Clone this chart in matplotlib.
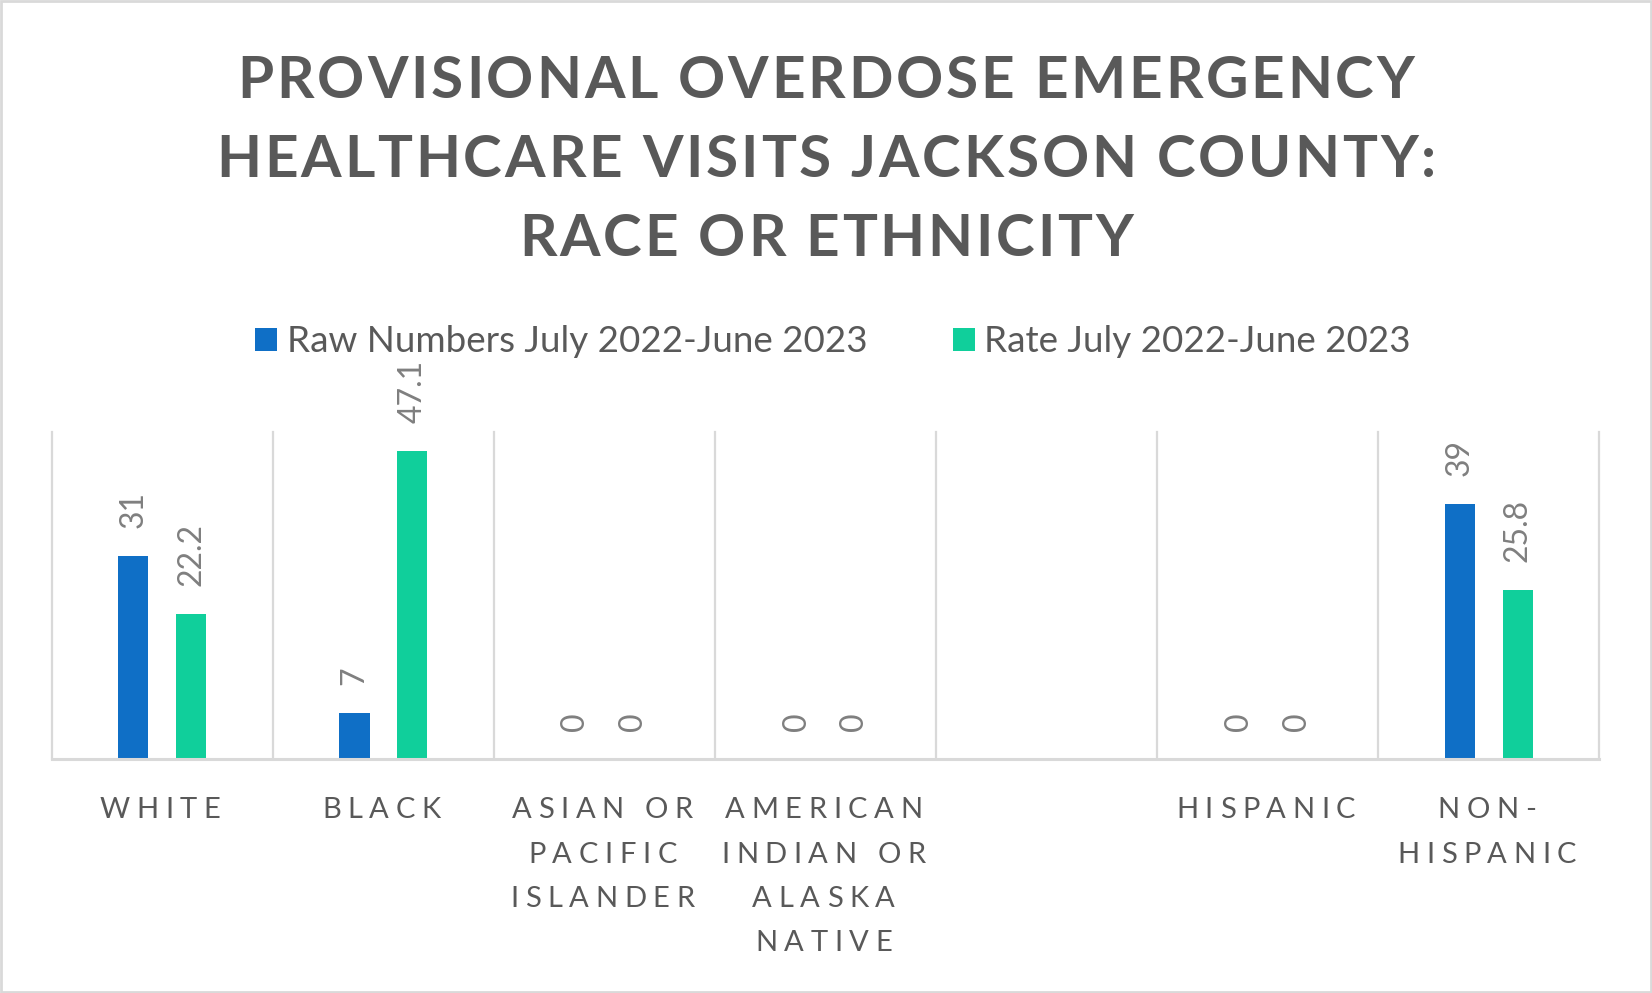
import matplotlib
matplotlib.use('Agg')
import matplotlib.pyplot as plt
from matplotlib.font_manager import FontProperties, findfont, get_font
from matplotlib.patches import Patch, Rectangle

# data
categories = [['WHITE'], ['BLACK'], ['ASIAN OR', 'PACIFIC', 'ISLANDER'],
              ['AMERICAN', 'INDIAN OR', 'ALASKA', 'NATIVE'], [],
              ['HISPANIC'], ['NON-', 'HISPANIC']]
raw_numbers = [31, 7, 0, 0, None, 0, 39]
rate = [22.2, 47.1, 0, 0, None, 0, 25.8]
series_names = ['Raw Numbers July 2022-June 2023', 'Rate July 2022-June 2023']
title_lines = ['PROVISIONAL OVERDOSE EMERGENCY',
               'HEALTHCARE VISITS JACKSON COUNTY:',
               'RACE OR ETHNICITY']

BLUE = '#0F6FC6'
GREEN = '#10CF9B'
GRID = '#D9D9D9'
TXT = '#595959'
LBL = '#7F7F7F'

plt.rcParams['font.family'] = ['Lato', 'DejaVu Sans']

W, H = 1652, 993
fig = plt.figure(figsize=(W / 100, H / 100), dpi=100)
fig.patch.set_facecolor('white')


def tracked_text(s, cx, y, size, weight='normal', track=0.0, color=TXT):
    """centre a string at pixel (cx, baseline y from top) with extra letter spacing"""
    fp = FontProperties(family='Lato', weight=weight, size=size)
    font = get_font(findfont(fp))
    font.set_size(size, fig.dpi)
    adv = [font.load_char(ord(c)).linearHoriAdvance / 65536 for c in s]
    total = sum(adv) + track * (len(s) - 1)
    x = cx - total / 2
    for c, a in zip(s, adv):
        if c != ' ':
            fig.text(x / W, 1 - y / H, c, fontproperties=fp, color=color,
                     ha='left', va='baseline')
        x += a + track


# plot area
ax = fig.add_axes([51.6 / W, 1 - 758.6 / H, 1547.8 / W, 326.6 / H])
ax.set_xlim(-0.5, len(categories) - 0.5)
ax.set_ylim(0, 50)
for sp in ax.spines.values():
    sp.set_visible(False)
ax.set_xticks([])
ax.set_yticks([])

for i in range(len(categories) + 1):
    ax.axvline(i - 0.5, color=GRID, lw=1.6, zorder=0, clip_on=False)
ax.axhline(0, color=GRID, lw=2.2, zorder=3, clip_on=False)

off, bw = 0.131, 0.138
for vals, color, sign in [(raw_numbers, BLUE, -1), (rate, GREEN, 1)]:
    xs = [i + sign * off for i, v in enumerate(vals) if v is not None]
    hs = [v for v in vals if v is not None]
    ax.bar(xs, hs, width=bw, color=color, zorder=2)
    for x, v in zip(xs, hs):
        ax.annotate(f'{v:g}', (x, v), xytext=(0, 20), textcoords='offset points',
                    rotation=90, ha='center', va='bottom', color=LBL, fontsize=23)

# category labels
fig.canvas.draw()
for i, lines in enumerate(categories):
    cx = ax.transData.transform((i, 0))[0]
    for j, line in enumerate(lines):
        tracked_text(line, cx - 2, 818.5 + j * 44.3, 21, track=6.6)

# title
for j, line in enumerate(title_lines):
    tracked_text(line, 826, 98 + j * 79, 42, weight='bold', track=2.9)

# legend
fs = 26.5
px = fs * 100 / 72
sq = 22 / px
handles = [Patch(facecolor=BLUE, label=series_names[0]),
           Patch(facecolor=GREEN, label=series_names[1])]
fig.legend(handles=handles, loc='center', bbox_to_anchor=(833 / W, 1 - 342 / H),
           ncol=2, frameon=False, prop=FontProperties(family='Lato', size=fs),
           labelcolor=TXT, handlelength=sq, handleheight=sq,
           handletextpad=10 / px, columnspacing=85 / px)

fig.add_artist(Rectangle((0.0008, 0.0012), 0.9984, 0.9976, transform=fig.transFigure,
                         fill=False, edgecolor=GRID, lw=2))

fig.savefig('out.png', dpi=100)
